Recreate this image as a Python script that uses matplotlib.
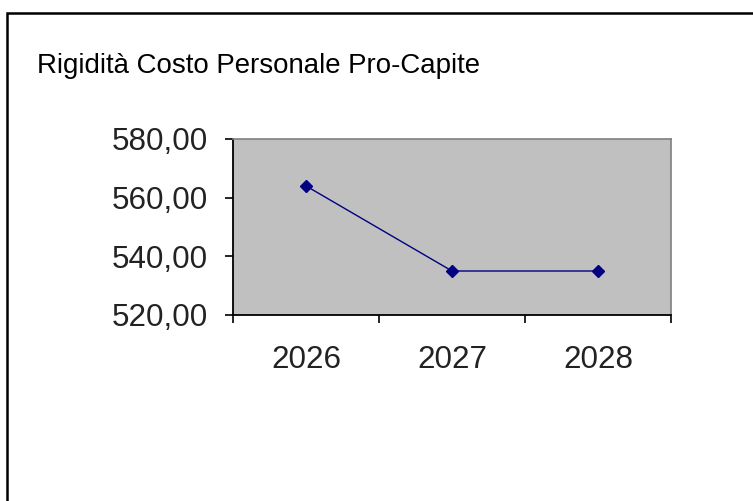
import matplotlib
matplotlib.use('Agg')
import matplotlib.pyplot as plt
import matplotlib.ticker as plticker
from matplotlib.patches import Rectangle

years = ['2026', '2027', '2028']
values = [564.0, 535.0, 535.0]
y_ticks = [520, 540, 560, 580]
title = 'Rigidità Costo Personale Pro-Capite'

plt.rcParams['font.family'] = ['Liberation Sans', 'DejaVu Sans']

W, H = 753, 501
fig = plt.figure(figsize=(W / 100, H / 100), dpi=100)

# outer chart border (runs off the right and bottom edges)
fig.patches.append(Rectangle((7 / W, -0.1), 1.2, 1 - 13 / H + 0.1, transform=fig.transFigure,
                             fill=False, edgecolor='black', linewidth=1.8, clip_on=False))

fig.text(37 / W, 1 - 73 / H, title, fontsize=19.9, color='black', va='baseline', ha='left')

ax = fig.add_axes([233 / W, 1 - 315 / H, (671 - 233) / W, (315 - 139) / H])
ax.set_facecolor('#c0c0c0')

x = list(range(len(years)))
ax.plot(x, values, color='#000080', linewidth=1.0, marker='D', markersize=6.5,
        markerfacecolor='#000080', markeredgecolor='#000080')

ax.set_xlim(-0.5, len(years) - 0.5)
ax.set_ylim(y_ticks[0], y_ticks[-1])
ax.set_yticks(y_ticks)
ax.yaxis.set_major_formatter(plticker.FuncFormatter(lambda v, p: '{:.2f}'.format(v).replace('.', ',')))

ax.set_xticks(x)
ax.set_xticklabels(years)
ax.set_xticks([i - 0.5 for i in range(len(years) + 1)], minor=True)
ax.tick_params(axis='x', which='major', length=0, pad=21.5, labelsize=22.6, labelcolor='#222222')
ax.tick_params(axis='x', which='minor', length=5.5, width=1.2, direction='out')
ax.tick_params(axis='y', length=6, width=1.2, direction='out', pad=12, labelsize=22.6,
               labelcolor='#222222')

for side in ['top', 'right']:
    ax.spines[side].set_color('#808080')
    ax.spines[side].set_linewidth(1.2)
for side in ['left', 'bottom']:
    ax.spines[side].set_color('black')
    ax.spines[side].set_linewidth(1.3)

fig.savefig('out.png', dpi=100)
